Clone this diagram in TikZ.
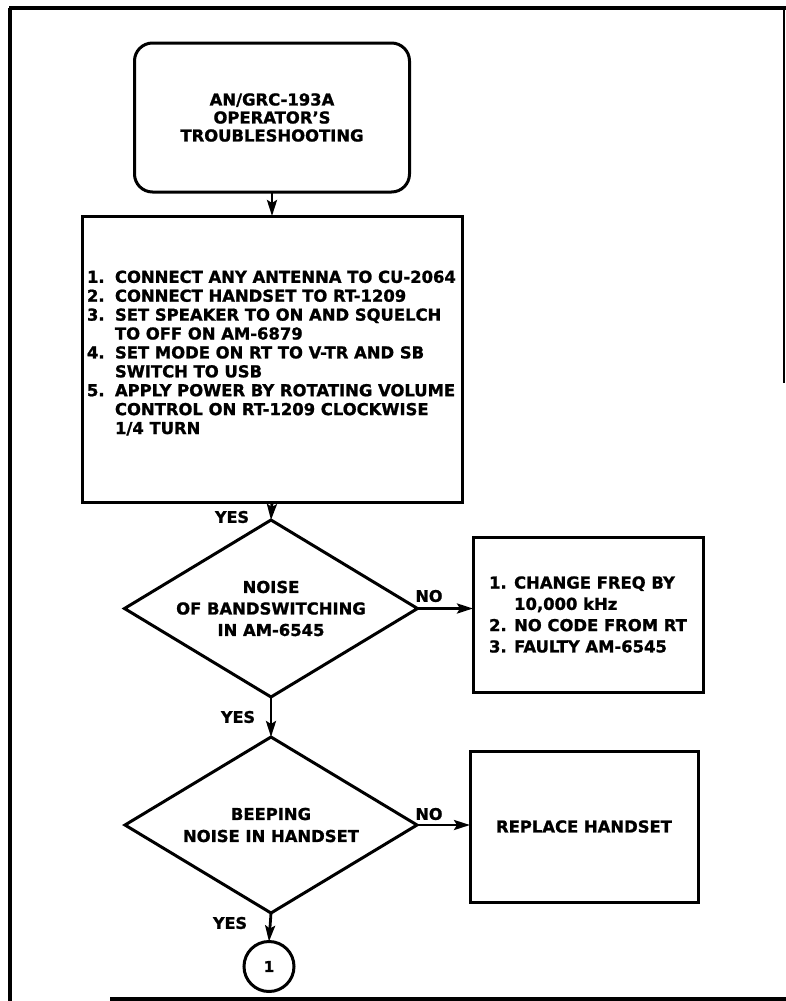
\documentclass[tikz,border=0pt]{standalone}
\usepackage{fontspec}
\setmainfont{DejaVu Sans}[BoldFeatures={FakeBold=1.2}]
\usetikzlibrary{arrows.meta,shapes.geometric}
\tikzset{
  every node/.style={font=\bfseries\fontsize{16.4pt}{21.5pt}\selectfont, inner sep=0pt, outer sep=0pt},
  stepbox/.style={draw, line width=3pt, rectangle},
  startbox/.style={draw, line width=3pt, rectangle, rounded corners=18pt},
  decision/.style={draw, line width=3pt, diamond, aspect=1.65, align=center},
  connector/.style={draw, line width=3pt, circle, minimum size=50pt},
  flow/.style={line width=2.8pt, -{Stealth[length=16pt,width=10pt,inset=3pt]}},
  lbl/.style={font=\bfseries\fontsize{16pt}{18pt}\selectfont},
  frame/.style={line width=3.5pt}
}
\newcommand{\itm}[1]{\makebox[28pt][l]{#1}}
\newcommand{\itmb}[1]{\makebox[25pt][l]{#1}}
\begin{document}
\begin{tikzpicture}[x=1pt,y=-1pt]
\useasboundingbox (0,0) rectangle (786,1001);
% outer frame
\draw[frame, line width=4pt] (9,8) -- (786,8);
\draw[frame] (10,8) -- (10,1001);
\draw[frame, line width=2.5pt] (784,8) -- (784,383);
\draw[frame] (110,999) -- (786,999);

% start
\node[startbox, minimum width=275pt, minimum height=149pt, align=center,
      font=\bfseries\fontsize{16.4pt}{18pt}\selectfont] (t) at (272,117.5)
  {AN/GRC-193A\\OPERATOR'S\\TROUBLESHOOTING};

% step list
\node[stepbox, minimum width=380pt, minimum height=286pt] (b1) at (272,359) {};
\node[anchor=base west, align=left, font=\bfseries\fontsize{16.4pt}{18.9pt}\selectfont] (b1t) at (87,434)
  {\itm{1.}CONNECT ANY ANTENNA TO CU-2064\\
   \itm{2.}CONNECT HANDSET TO RT-1209\\
   \itm{3.}SET SPEAKER TO ON AND SQUELCH\\
   \itm{}TO OFF ON AM-6879\\
   \itm{4.}SET MODE ON RT TO V-TR AND SB\\
   \itm{}SWITCH TO USB\\
   \itm{5.}APPLY POWER BY ROTATING VOLUME\\
   \itm{}CONTROL ON RT-1209 CLOCKWISE\\
   \itm{}1/4 TURN};

% decision 1
\node[decision, minimum width=293pt, minimum height=177pt] (d1) at (271,608.5)
  {NOISE\\OF BANDSWITCHING\\IN AM-6545};
\node[stepbox, minimum width=230pt, minimum height=155pt, align=left,
      font=\bfseries\fontsize{16.4pt}{21.3pt}\selectfont] (n1) at (588,614.5)
  {\itmb{1.}CHANGE FREQ BY\\
   \itmb{}10,000 kHz\\
   \itmb{2.}NO CODE FROM RT\\
   \itmb{3.}FAULTY AM-6545};

% decision 2
\node[decision, minimum width=292pt, minimum height=176pt,
      font=\bfseries\fontsize{16.4pt}{22pt}\selectfont] (d2) at (271,825)
  {BEEPING\\NOISE IN HANDSET};
\node[stepbox, minimum width=228pt, minimum height=151pt] (n2) at (584,826.5)
  {REPLACE HANDSET};

% connector circle
\node[connector, font=\bfseries\fontsize{15pt}{16pt}\selectfont] (c1) at (269,966.5) {1};

% flows
\draw[flow] (t.south) -- (b1.north);
\draw[flow] (b1.south) -- (d1.north);
\draw[flow] (d1.east) -- (n1.west |- d1.east);
\draw[flow] (d1.south) -- (d2.north);
\draw[flow] (d2.east) -- (n2.west |- d2.east);
\draw[flow] (d2.south) -- (c1.north);

% labels
\node[lbl] (yes1) at (232,517) {YES};
\node[lbl] (no1) at (429,596) {NO};
\node[lbl] (yes2) at (238,717) {YES};
\node[lbl] (no2) at (429,814) {NO};
\node[lbl] (yes3) at (230,923) {YES};
\end{tikzpicture}
\end{document}
